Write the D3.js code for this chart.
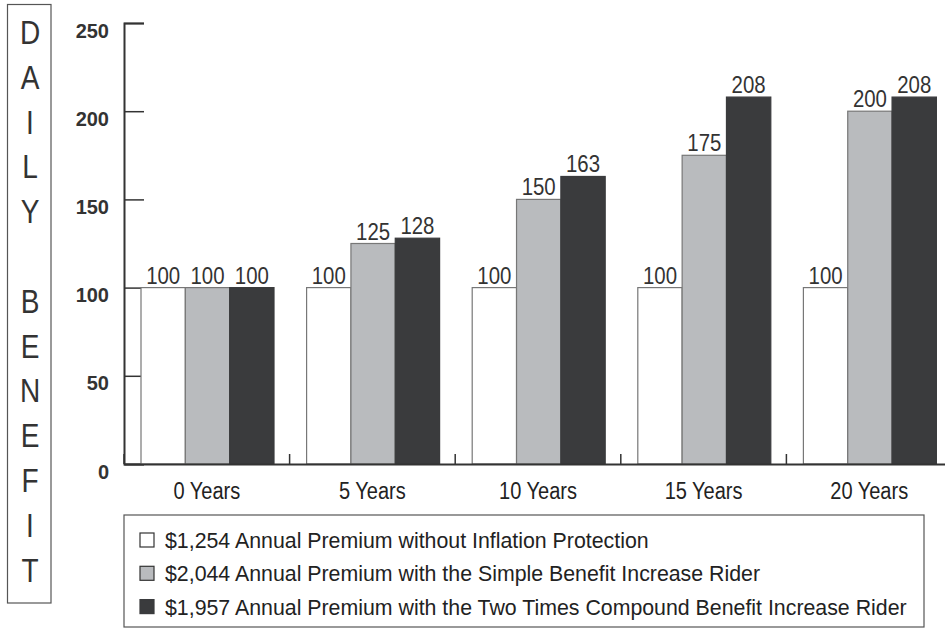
<!DOCTYPE html>
<html>
<head>
<meta charset="utf-8">
<script src="https://cdn.jsdelivr.net/npm/d3@7"></script>
<style>
  body { margin: 0; background: #fff; }
  svg { display: block; }
  text { font-family: "Liberation Sans", Arial, sans-serif; }
</style>
</head>
<body>
<div id="block"></div>
<script>
// data
var categories = ["0 Years", "5 Years", "10 Years", "15 Years", "20 Years"];
var seriesNames = [
    "$1,254 Annual Premium without Inflation Protection",
    "$2,044 Annual Premium with the Simple Benefit Increase Rider",
    "$1,957 Annual Premium with the Two Times Compound Benefit Increase Rider"
];
var withoutProtection = [100, 100, 100, 100, 100];
var simpleRider = [100, 125, 150, 175, 200];
var compoundRider = [100, 128, 163, 208, 208];
var yTicks = [0, 50, 100, 150, 200, 250];
var titleLetters = ["D", "A", "I", "L", "Y", "", "B", "E", "N", "E", "F", "I", "T"];

var fills = ["#ffffff", "#b9bbbe", "#3a3b3d"];
var strokes = ["#777", "#777", "#3a3b3d"];

// dimensions
var svg_dx = 945, svg_dy = 628,
    margin = {top: 23, left: 124, right: -7, bottom: 164},
    chart_dy = svg_dy - margin.bottom;

var svg = d3.select("#block")
            .append("svg")
            .attr("width", svg_dx)
            .attr("height", svg_dy);

// scales
var x0 = d3.scaleBand()
           .domain(categories)
           .range([margin.left, svg_dx - margin.right]);

var x1 = d3.scaleBand()
           .domain(d3.range(3))
           .range([17, 150]);

var y = d3.scaleLinear()
          .domain([0, 250])
          .range([chart_dy, margin.top]);

var rows = categories.map(function(c, i) {
    return {cat: c, vals: [withoutProtection[i], simpleRider[i], compoundRider[i]]};
});

// y axis
var yAxis = d3.axisLeft(y)
              .tickValues(yTicks)
              .tickSize(-20)
              .tickPadding(15);

var y_axis = svg.append("g")
                .attr("transform", "translate(" + margin.left + ",0)")
                .call(yAxis);
y_axis.select(".domain").attr("stroke", "#333").attr("stroke-width", 2);
y_axis.selectAll(".tick line").attr("stroke", "#333").attr("stroke-width", 1.5);
y_axis.selectAll(".tick text")
      .attr("dy", 14)
      .style("font-family", "'Liberation Sans', Arial, sans-serif")
      .style("font-size", "20px")
      .style("font-weight", "bold")
      .attr("fill", "#333");

// bars
var groups = svg.append("g")
                .selectAll("g")
                .data(rows)
                .enter()
                .append("g")
                .attr("transform", function(d) { return "translate(" + x0(d.cat) + ",0)"; });

groups.selectAll("rect")
      .data(function(d) { return d.vals; })
      .enter()
      .append("rect")
      .attr("x", function(d, i) { return x1(i); })
      .attr("y", function(d) { return y(d); })
      .attr("width", x1.bandwidth())
      .attr("height", function(d) { return y(0) - y(d); })
      .attr("fill", function(d, i) { return fills[i]; })
      .attr("stroke", function(d, i) { return strokes[i]; })
      .attr("stroke-width", 1.2);

groups.selectAll("text")
      .data(function(d) { return d.vals; })
      .enter()
      .append("text")
      .attr("transform", function(d, i) {
          return "translate(" + (x1(i) + x1.bandwidth() / 2) + "," + (y(d) - 4) + ") scale(0.85,1)";
      })
      .attr("text-anchor", "middle")
      .style("font-size", "24px")
      .attr("fill", "#333")
      .text(function(d) { return d; });

// x axis
var xAxis = d3.axisBottom(x0).tickSize(0);
var x_axis = svg.append("g")
                .attr("transform", "translate(0," + chart_dy + ")")
                .call(xAxis);
x_axis.select(".domain").attr("stroke", "#333").attr("stroke-width", 2);
x_axis.selectAll(".tick text")
      .attr("y", 0)
      .attr("dy", 0)
      .attr("transform", "translate(0,35) scale(0.87,1)")
      .style("font-family", "'Liberation Sans', Arial, sans-serif")
      .style("font-size", "23px")
      .attr("fill", "#222");

// category separators
svg.append("g")
   .selectAll("line")
   .data(categories)
   .enter()
   .append("line")
   .attr("x1", function(d) { return x0(d); })
   .attr("x2", function(d) { return x0(d); })
   .attr("y1", chart_dy - 10)
   .attr("y2", chart_dy)
   .attr("stroke", "#333")
   .attr("stroke-width", 1.5);

// y title box
svg.append("rect")
   .attr("x", 7.5).attr("y", 4.5)
   .attr("width", 43.5).attr("height", 598.5)
   .attr("fill", "none")
   .attr("stroke", "#555")
   .attr("stroke-width", 1.2);

svg.append("g")
   .selectAll("text")
   .data(titleLetters)
   .enter()
   .append("text")
   .attr("transform", function(d, i) { return "translate(30," + (44 + i * 44.8) + ") scale(0.85,1)"; })
   .attr("text-anchor", "middle")
   .style("font-size", "33px")
   .attr("fill", "#333")
   .text(function(d) { return d; });

// legend
var legend = svg.append("g");
legend.append("rect")
      .attr("x", 124).attr("y", 515)
      .attr("width", 800).attr("height", 112)
      .attr("fill", "none")
      .attr("stroke", "#555")
      .attr("stroke-width", 1.2);

var items = legend.selectAll("g")
                  .data(seriesNames)
                  .enter()
                  .append("g")
                  .attr("transform", function(d, i) { return "translate(140," + (533 + i * 33.3) + ")"; });

items.append("rect")
     .attr("width", 14).attr("height", 14)
     .attr("fill", function(d, i) { return fills[i]; })
     .attr("stroke", function(d, i) { return i === 2 ? fills[2] : "#333"; })
     .attr("stroke-width", 1.2);

items.append("text")
     .attr("transform", "translate(25,15) scale(0.97,1)")
     .style("font-size", "22px")
     .attr("fill", "#222")
     .text(function(d) { return d; });
</script>
</body>
</html>
